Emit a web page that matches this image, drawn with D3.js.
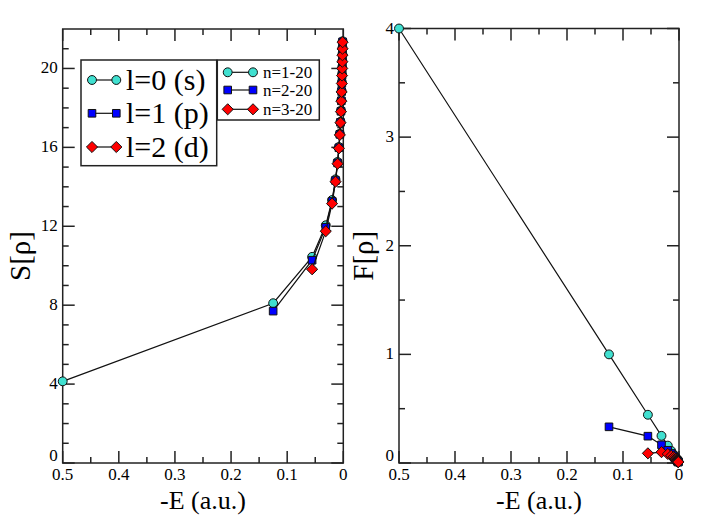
<!DOCTYPE html>
<html lang="en">
<head>
    <meta charset="UTF-8">
    <script src="https://cdn.jsdelivr.net/npm/d3@7"></script>
    <title>S and F vs -E</title>
    <style>
        body { margin: 0; background: white; }
        svg { display: block; background: white; }
    </style>
</head>
<body>
<script>
    /*------------------- data --------------------*/
    // -E (a.u.) for n = 1..20
    const negE = [0.5, 0.125, 0.05556, 0.03125, 0.02, 0.01389, 0.01020, 0.00781, 0.00617, 0.005,
                  0.00413, 0.00347, 0.00296, 0.00255, 0.00222, 0.00195, 0.00173, 0.00154, 0.00139, 0.00125];

    // Shannon entropy S[rho]
    const S_l0 = [4.14, 8.10, 10.45, 12.05, 13.33, 14.38, 15.26, 16.02, 16.69, 17.30,
                  17.86, 18.39, 18.86, 19.29, 19.69, 20.05, 20.39, 20.72, 21.05, 21.38];   // n=1-20
    const S_l1 = [7.70, 10.28, 11.95, 13.26, 14.32, 15.21, 15.98, 16.66, 17.27,
                  17.83, 18.36, 18.83, 19.26, 19.66, 20.02, 20.36, 20.69, 21.02, 21.35];   // n=2-20
    const S_l2 = [9.82, 11.75, 13.15, 14.26, 15.17, 15.95, 16.63, 17.25,
                  17.81, 18.34, 18.81, 19.24, 19.64, 20.00, 20.34, 20.67, 21.00, 21.33];   // n=3-20

    // Fisher information F[rho]
    const F_l0 = [4.0, 1.0, 0.444, 0.25, 0.16, 0.111, 0.0816, 0.0625, 0.0494, 0.04,
                  0.0331, 0.0278, 0.0237, 0.0204, 0.0178, 0.0156, 0.0138, 0.0123, 0.0111, 0.01];
    const F_l1 = [0.333, 0.247, 0.167, 0.117, 0.0864, 0.0661, 0.0521, 0.0421, 0.0347,
                  0.0291, 0.0247, 0.0212, 0.0185, 0.0162, 0.0143, 0.0128, 0.0114, 0.0103, 0.0093];
    const F_l2 = [0.089, 0.100, 0.083, 0.0667, 0.0536, 0.0438, 0.0362, 0.0304,
                  0.0259, 0.0222, 0.0193, 0.0169, 0.0149, 0.0133, 0.0119, 0.0107, 0.0097, 0.0088];

    const bigLegend = ["l=0 (s)", "l=1 (p)", "l=2 (d)"];
    const smallLegend = ["n=1-20", "n=2-20", "n=3-20"];

    const xTicks = [0.5, 0.4, 0.3, 0.2, 0.1, 0];
    const sTicks = [0, 4, 8, 12, 16, 20];
    const fTicks = [0, 1, 2, 3, 4];

    /*------------------- setup --------------------*/
    const W = 706, H = 526;
    const FONT = "'Liberation Serif', 'Times New Roman', Times, 'DejaVu Serif', serif";
    const svg = d3.select("body").append("svg")
        .attr("width", W).attr("height", H)
        .attr("font-family", FONT);

    // diamond = square turned 45 degrees
    const squareDiamond = {
        draw(ctx, size) {
            const r = Math.sqrt(size / 2);
            ctx.moveTo(0, -r); ctx.lineTo(r, 0); ctx.lineTo(0, r); ctx.lineTo(-r, 0); ctx.closePath();
        }
    };

    // series styling: l=0 turquoise circle, l=1 blue square, l=2 red diamond
    const styles = [
        { color: "#40e0d0", sym: d3.symbolCircle, size: 62 },
        { color: "#0000ff", sym: d3.symbolSquare, size: 58 },
        { color: "#ff0000", sym: squareDiamond, size: 62 }
    ];

    function makeSeries(ys, start) {
        return ys.map((v, i) => ({ x: negE[i + start], y: v }));
    }

    function panel(opt) {
        const x = d3.scaleLinear().domain([0.5, 0]).range([opt.x0, opt.x1]);
        const y = d3.scaleLinear().domain([0, opt.ymax]).range([opt.y1, opt.y0]);
        const g = svg.append("g");

        // frame
        g.append("rect")
            .attr("x", opt.x0).attr("y", opt.y0)
            .attr("width", opt.x1 - opt.x0).attr("height", opt.y1 - opt.y0)
            .attr("fill", "none").attr("stroke", "#222").attr("stroke-width", 1.5);

        // ticks (inward, mirrored on all sides)
        const xMinor = d3.range(0.05, 0.5, 0.1);
        const yMinor = d3.range(opt.minor, opt.ymax, opt.minor).filter(v => Math.abs(v / opt.major - Math.round(v / opt.major)) > 1e-6);
        const tickLines = [];
        xTicks.forEach(v => {
            tickLines.push([x(v), opt.y1, x(v), opt.y1 - 12]);
            tickLines.push([x(v), opt.y0, x(v), opt.y0 + 12]);
        });
        xMinor.forEach(v => {
            tickLines.push([x(v), opt.y1, x(v), opt.y1 - 6]);
            tickLines.push([x(v), opt.y0, x(v), opt.y0 + 6]);
        });
        opt.ticks.forEach(v => {
            tickLines.push([opt.x0, y(v), opt.x0 + 12, y(v)]);
            tickLines.push([opt.x1, y(v), opt.x1 - 12, y(v)]);
        });
        yMinor.forEach(v => {
            tickLines.push([opt.x0, y(v), opt.x0 + 6, y(v)]);
            tickLines.push([opt.x1, y(v), opt.x1 - 6, y(v)]);
        });
        g.selectAll(".tk").data(tickLines).enter().append("line")
            .attr("x1", d => d[0]).attr("y1", d => d[1])
            .attr("x2", d => d[2]).attr("y2", d => d[3])
            .attr("stroke", "#222").attr("stroke-width", 1.5);

        // tick labels
        g.selectAll(".xl").data(xTicks).enter().append("text")
            .attr("x", d => x(d)).attr("y", opt.y1 + 17)
            .attr("text-anchor", "middle").attr("font-size", 17)
            .text(d => d);
        g.selectAll(".yl").data(opt.ticks).enter().append("text")
            .attr("x", opt.x0 - 5).attr("y", d => y(d) + (d === 0 ? -2 : 5))
            .attr("text-anchor", "end").attr("font-size", 17)
            .text(d => d);

        // axis titles
        g.append("text")
            .attr("x", (opt.x0 + opt.x1) / 2).attr("y", 509)
            .attr("text-anchor", "middle").attr("font-size", 26)
            .text("-E (a.u.)");
        g.append("text")
            .attr("transform", `translate(${opt.labelX},${(opt.y0 + opt.y1) / 2 + 10}) rotate(-90)`)
            .attr("text-anchor", "middle").attr("font-size", 29)
            .text(opt.label);

        // series: lines then markers
        const line = d3.line().x(d => x(d.x)).y(d => y(d.y));
        opt.series.forEach((s, k) => {
            g.append("path").datum(s)
                .attr("d", line)
                .attr("fill", "none").attr("stroke", "#111").attr("stroke-width", 1.2);
            g.selectAll(".m" + k).data(s).enter().append("path")
                .attr("transform", d => `translate(${x(d.x)},${y(d.y)})`)
                .attr("d", d3.symbol().type(styles[k].sym).size(styles[k].size))
                .attr("fill", styles[k].color)
                .attr("stroke", "#111").attr("stroke-width", 1);
        });
    }

    panel({
        x0: 62.7, x1: 343.3, y0: 29, y1: 463, ymax: 22, major: 4, minor: 1,
        ticks: sTicks, label: "S[ρ]", labelX: 30,
        series: [makeSeries(S_l0, 0), makeSeries(S_l1, 1), makeSeries(S_l2, 2)]
    });
    panel({
        x0: 399, x1: 679, y0: 28.5, y1: 463, ymax: 4, major: 1, minor: 0.5,
        ticks: fTicks, label: "F[ρ]", labelX: 373,
        series: [makeSeries(F_l0, 0), makeSeries(F_l1, 1), makeSeries(F_l2, 2)]
    });

    /*------------------- legends --------------------*/
    function legend(x0, y0, w, h, labels, rowY, symX0, symX1, textX, fontSize) {
        const g = svg.append("g");
        g.append("rect").attr("x", x0).attr("y", y0).attr("width", w).attr("height", h)
            .attr("fill", "white").attr("stroke", "#222").attr("stroke-width", 1.5);
        labels.forEach((lab, k) => {
            const yy = rowY[k];
            g.append("line").attr("x1", symX0).attr("x2", symX1).attr("y1", yy).attr("y2", yy)
                .attr("stroke", "#111").attr("stroke-width", 1.2);
            [symX0, symX1].forEach(sx => {
                g.append("path")
                    .attr("transform", `translate(${sx},${yy})`)
                    .attr("d", d3.symbol().type(styles[k].sym).size(styles[k].size))
                    .attr("fill", styles[k].color).attr("stroke", "#111").attr("stroke-width", 1);
            });
            g.append("text").attr("x", textX).attr("y", yy + fontSize * 0.33)
                .attr("font-size", fontSize).text(lab);
        });
    }
    legend(81, 60, 135.7, 105.7, bigLegend, [80, 113.3, 147], 92, 116.3, 126, 30);
    legend(217.3, 60, 102, 60, smallLegend, [72.3, 90, 109.3], 227.7, 253, 263, 17);
</script>
</body>
</html>
